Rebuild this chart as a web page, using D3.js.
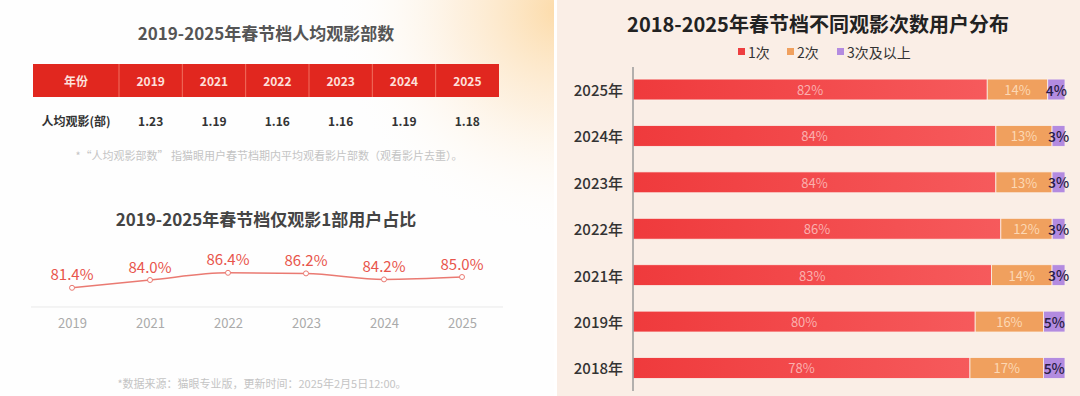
<!DOCTYPE html>
<html>
<head>
<meta charset="utf-8">
<script src="https://cdn.jsdelivr.net/npm/d3@7"></script>
<style>
  body { margin: 0; background: #fff; }
  svg { display: block; font-family: "Noto Sans CJK SC", "Noto Sans", sans-serif; }
</style>
</head>
<body>
<script>
// size of the whole picture
var width = 1080;
var height = 396;

// left panel: table of films per user
var tableYears = ["2019", "2021", "2022", "2023", "2024", "2025"];
var avgFilms = [1.23, 1.19, 1.16, 1.16, 1.19, 1.18];

// left panel: share of users who watched only one film
var lineYears = ["2019", "2021", "2022", "2023", "2024", "2025"];
var onlyOneShare = [81.4, 84.0, 86.4, 86.2, 84.2, 85.0];

// right panel: stacked bars
var barYears = ["2025年", "2024年", "2023年", "2022年", "2021年", "2019年", "2018年"];
var once = [82, 84, 84, 86, 83, 80, 78];
var twice = [14, 13, 13, 12, 14, 16, 17];
var threePlus = [4, 3, 3, 3, 3, 5, 5];
var seriesNames = ["1次", "2次", "3次及以上"];

var svg = d3.select("body").append("svg")
  .attr("width", width)
  .attr("height", height);

var defs = svg.append("defs");

// warm glow in the top right of the left panel
var glow = defs.append("radialGradient").attr("id", "glow")
  .attr("cx", 560).attr("cy", 10).attr("r", 230)
  .attr("gradientUnits", "userSpaceOnUse");
glow.append("stop").attr("offset", "0%").attr("stop-color", "#fcd9a4").attr("stop-opacity", 0.95);
glow.append("stop").attr("offset", "45%").attr("stop-color", "#fde8cc").attr("stop-opacity", 0.6);
glow.append("stop").attr("offset", "100%").attr("stop-color", "#ffffff").attr("stop-opacity", 0);

// red bars get a little lighter to the right
var redGrad = defs.append("linearGradient").attr("id", "redGrad")
  .attr("x1", "0%").attr("x2", "100%").attr("y1", "0%").attr("y2", "0%");
redGrad.append("stop").attr("offset", "0%").attr("stop-color", "#ef3a3c");
redGrad.append("stop").attr("offset", "100%").attr("stop-color", "#f65a5c");

// backgrounds
svg.append("rect").attr("x", 0).attr("y", 0).attr("width", 554).attr("height", height).attr("fill", "#fefefe");
svg.append("rect").attr("x", 0).attr("y", 0).attr("width", 554).attr("height", height).attr("fill", "url(#glow)");
svg.append("rect").attr("x", 557).attr("y", 0).attr("width", width - 557).attr("height", height).attr("fill", "#faeee6");

// ---------- left top: table ----------
var left = svg.append("g");

left.append("text")
  .attr("x", 266).attr("y", 32)
  .attr("text-anchor", "middle").attr("dominant-baseline", "central")
  .attr("font-size", 17).attr("font-weight", "bold").attr("fill", "#555")
  .text("2019-2025年春节档人均观影部数");

var tableX = d3.scaleBand().domain(tableYears).range([119, 499]);
var headerTop = 64, headerH = 33;

left.append("rect")
  .attr("x", 33).attr("y", headerTop)
  .attr("width", 499 - 33).attr("height", headerH)
  .attr("fill", "#e1271f");

left.selectAll(".sep")
  .data(tableYears)
  .enter().append("line")
  .attr("x1", function(d) { return tableX(d); })
  .attr("x2", function(d) { return tableX(d); })
  .attr("y1", headerTop).attr("y2", headerTop + headerH)
  .attr("stroke", "#f07060").attr("stroke-width", 1);

left.append("text")
  .attr("x", 76).attr("y", headerTop + headerH / 2)
  .attr("text-anchor", "middle").attr("dominant-baseline", "central")
  .attr("font-size", 12).attr("font-weight", "bold").attr("fill", "#fde0dc")
  .text("年份");

left.selectAll(".hyear")
  .data(tableYears)
  .enter().append("text")
  .attr("x", function(d) { return tableX(d) + tableX.bandwidth() / 2; })
  .attr("y", headerTop + headerH / 2)
  .attr("text-anchor", "middle").attr("dominant-baseline", "central")
  .attr("font-size", 12).attr("font-weight", "bold").attr("fill", "#fde0dc")
  .text(function(d) { return d; });

left.append("text")
  .attr("x", 76).attr("y", 120)
  .attr("text-anchor", "middle").attr("dominant-baseline", "central")
  .attr("font-size", 12).attr("font-weight", "bold").attr("fill", "#333")
  .text("人均观影(部)");

left.selectAll(".val")
  .data(avgFilms)
  .enter().append("text")
  .attr("x", function(d, i) { return tableX(tableYears[i]) + tableX.bandwidth() / 2; })
  .attr("y", 120)
  .attr("text-anchor", "middle").attr("dominant-baseline", "central")
  .attr("font-size", 12).attr("font-weight", "bold").attr("fill", "#333")
  .text(function(d) { return d.toFixed(2); });

left.append("text")
  .attr("x", 269).attr("y", 155)
  .attr("text-anchor", "middle").attr("dominant-baseline", "central")
  .attr("font-size", 11).attr("fill", "#c4c4c4")
  .text("*“人均观影部数” 指猫眼用户春节档期内平均观看影片部数（观看影片去重）。");

// ---------- left bottom: line ----------
left.append("text")
  .attr("x", 266).attr("y", 218)
  .attr("text-anchor", "middle").attr("dominant-baseline", "central")
  .attr("font-size", 17).attr("font-weight", "bold").attr("fill", "#444")
  .text("2019-2025年春节档仅观影1部用户占比");

var lx = d3.scalePoint().domain(lineYears).range([72, 462]);
var ly = d3.scaleLinear().domain([75, 90]).range([307, 262]);

left.append("line")
  .attr("x1", 31).attr("x2", 503)
  .attr("y1", ly(75)).attr("y2", ly(75))
  .attr("stroke", "#e9e9e9").attr("stroke-width", 1);

var xAxis = left.append("g")
  .attr("transform", "translate(0," + ly(75) + ")")
  .call(d3.axisBottom(lx).tickSize(0).tickPadding(12));
xAxis.select(".domain").remove();
xAxis.selectAll("text")
  .attr("font-family", "\"Noto Sans CJK SC\", sans-serif")
  .attr("font-size", 13).attr("fill", "#aaa");

var line = d3.line()
  .x(function(d, i) { return lx(lineYears[i]); })
  .y(function(d) { return ly(d); })
  .curve(d3.curveMonotoneX);

left.append("path")
  .datum(onlyOneShare)
  .attr("d", line)
  .attr("fill", "none")
  .attr("stroke", "#ea7a72").attr("stroke-width", 1.5);

left.selectAll(".dot")
  .data(onlyOneShare)
  .enter().append("circle")
  .attr("cx", function(d, i) { return lx(lineYears[i]); })
  .attr("cy", function(d) { return ly(d); })
  .attr("r", 2.5)
  .attr("fill", "#fff").attr("stroke", "#ea7a72").attr("stroke-width", 1);

left.selectAll(".lbl")
  .data(onlyOneShare)
  .enter().append("text")
  .attr("x", function(d, i) { return lx(lineYears[i]); })
  .attr("y", function(d) { return ly(d) - 14; })
  .attr("text-anchor", "middle").attr("dominant-baseline", "central")
  .attr("font-size", 15).attr("fill", "#e8554c")
  .text(function(d) { return d.toFixed(1) + "%"; });

left.append("text")
  .attr("x", 262).attr("y", 383)
  .attr("text-anchor", "middle").attr("dominant-baseline", "central")
  .attr("font-size", 11).attr("fill", "#c4c4c4")
  .text("*数据来源：猫眼专业版，更新时间：2025年2月5日12:00。");

// ---------- right: stacked bars ----------
var right = svg.append("g");

right.append("text")
  .attr("x", 818).attr("y", 23)
  .attr("text-anchor", "middle").attr("dominant-baseline", "central")
  .attr("font-size", 20).attr("font-weight", "bold").attr("fill", "#222")
  .text("2018-2025年春节档不同观影次数用户分布");

var rows = barYears.map(function(y, i) {
  return { year: y, "1次": once[i], "2次": twice[i], "3次及以上": threePlus[i] };
});
var stacked = d3.stack().keys(seriesNames).offset(d3.stackOffsetExpand)(rows);

var bx = d3.scaleLinear().domain([0, 1]).range([633, 1065]);
var by = d3.scaleBand().domain(barYears).range([66.3, 391.2]).paddingInner(0.55).paddingOuter(0.275);
var fills = { "1次": "url(#redGrad)", "2次": "#f0a05e", "3次及以上": "#b38be0" };
var swatch = { "1次": "#ee3e40", "2次": "#f0a05e", "3次及以上": "#b38be0" };
var labelColor = { "1次": "#fab0ae", "2次": "#fcd8b4", "3次及以上": "#2a1d44" };

// legend
var legendX = { "1次": 738, "2次": 787, "3次及以上": 837 };
var legend = right.selectAll(".leg")
  .data(seriesNames)
  .enter().append("g")
  .attr("transform", function(d) { return "translate(" + legendX[d] + ",52)"; });
legend.append("rect")
  .attr("x", 0).attr("y", -4).attr("width", 7).attr("height", 7)
  .attr("fill", function(d) { return swatch[d]; });
legend.append("text")
  .attr("x", 10).attr("y", 0)
  .attr("dominant-baseline", "central")
  .attr("font-size", 14).attr("fill", "#333")
  .text(function(d) { return d; });

var layers = right.selectAll(".layer")
  .data(stacked)
  .enter().append("g");

layers.selectAll("rect")
  .data(function(s) { return s.map(function(p) { p.key = s.key; return p; }); })
  .enter().append("rect")
  .attr("x", function(p) { return bx(p[0]); })
  .attr("y", function(p) { return by(p.data.year); })
  .attr("width", function(p) { return bx(p[1]) - bx(p[0]); })
  .attr("height", by.bandwidth())
  .attr("fill", function(p) { return fills[p.key]; })
  .attr("stroke", "#fbf1ea").attr("stroke-width", 0.8);

layers.selectAll("text")
  .data(function(s) { return s.map(function(p) { p.key = s.key; return p; }); })
  .enter().append("text")
  .attr("x", function(p) { return (bx(p[0]) + bx(p[1])) / 2; })
  .attr("y", function(p) { return by(p.data.year) + by.bandwidth() / 2; })
  .attr("text-anchor", "middle").attr("dominant-baseline", "central")
  .attr("font-size", function(p) { return p.key === "3次及以上" ? 14 : 13; })
  .attr("font-weight", function(p) { return p.key === "3次及以上" ? 500 : 400; })
  .attr("fill", function(p) { return labelColor[p.key]; })
  .text(function(p) { return p.data[p.key] + "%"; });

// year labels
right.selectAll(".ylab")
  .data(barYears)
  .enter().append("text")
  .attr("x", 623)
  .attr("y", function(d) { return by(d) + by.bandwidth() / 2; })
  .attr("text-anchor", "end").attr("dominant-baseline", "central")
  .attr("font-size", 15).attr("font-weight", 500).attr("fill", "#333")
  .text(function(d) { return d; });

// axis line
right.append("line")
  .attr("x1", 633).attr("x2", 633)
  .attr("y1", 67).attr("y2", 391)
  .attr("stroke", "#9a9a9a").attr("stroke-width", 1.5);
</script>
</body>
</html>
